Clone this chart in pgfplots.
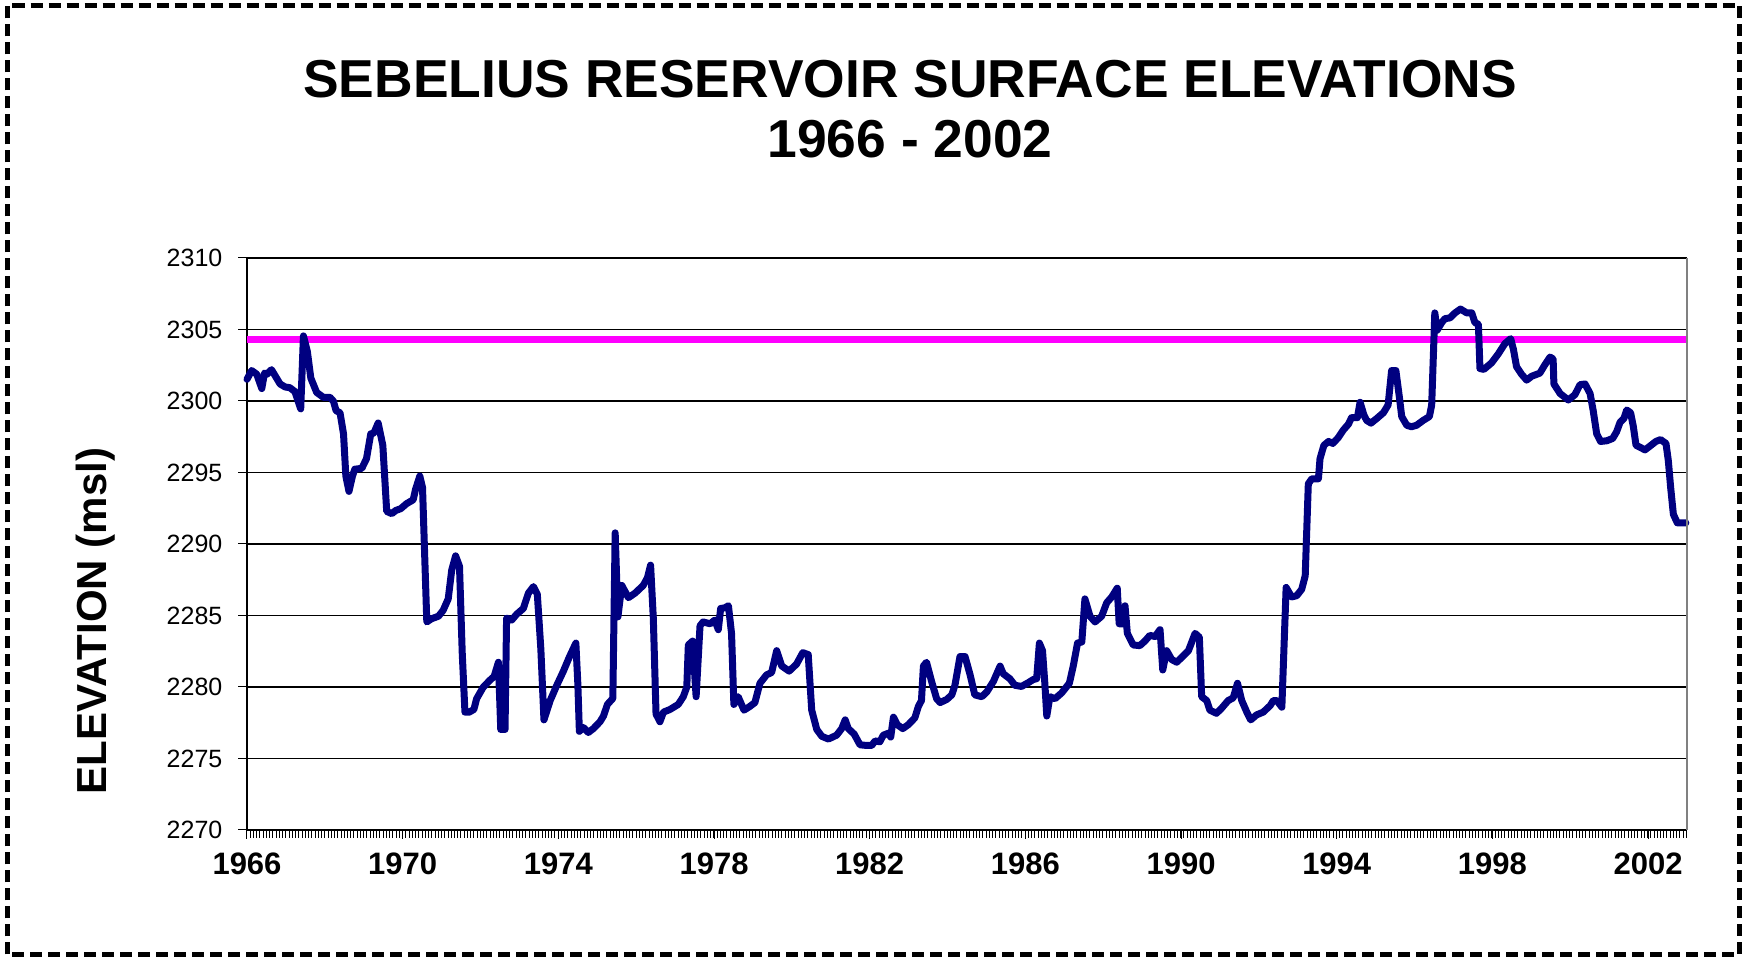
\documentclass[border=0pt]{standalone}
\usepackage{fontspec}
\setmainfont{Liberation Sans}
\usepackage{pgfplots}
\pgfplotsset{compat=1.18}
\definecolor{navyline}{RGB}{0,0,128}
\definecolor{magline}{RGB}{255,0,255}
\begin{document}
\begin{tikzpicture}
\useasboundingbox (0,0) rectangle (873.5pt,479pt);
\draw[line width=2.5pt, dash pattern=on 6pt off 3pt] (3.75pt,1.75pt) rectangle (869.75pt,476.25pt);
\node[anchor=base, font=\bfseries\fontsize{26.7}{30}\selectfont] at (455pt,430pt) {SEBELIUS RESERVOIR SURFACE ELEVATIONS};
\node[anchor=base, font=\bfseries\fontsize{26.7}{30}\selectfont] at (455pt,400pt) {1966 - 2002};
\node[rotate=90, font=\bfseries\fontsize{21}{25}\selectfont] at (48pt,168.5pt) {ELEVATION (msl)};
\begin{axis}[
  at={(123.5pt,64pt)}, anchor=south west,
  scale only axis, width=720pt, height=286pt,
  xmin=1966, xmax=2003, ymin=2270, ymax=2310,
  axis lines*=left,
  axis line style={black, line width=0.75pt},
  xtick={1966,1970,...,2002},
  minor xtick={1966,1966.083333,...,2003},
  ytick={2270,2275,...,2310},
  tick align=outside,
  major tick length=4.5pt, minor tick length=4pt,
  every tick/.style={black, line width=0.5pt},
  ymajorgrids,
  major grid style={black, line width=0.6pt},
  /pgf/number format/.cd, 1000 sep={}, assume math mode=true,
  /pgfplots/.cd,
  xticklabel style={font=\bfseries\fontsize{15.5}{18}\selectfont, yshift=-3.5pt},
  yticklabel style={font=\fontsize{12.5}{15}\selectfont, xshift=-4.3pt},
  clip=false,
]
\addplot[magline, line width=3.3pt] coordinates {(1966,2304.3) (2003,2304.3)};
\addplot[navyline, line width=3.5pt, line join=round, line cap=round] coordinates {
(1966.00,2301.52) (1966.12,2302.13) (1966.25,2301.87) (1966.38,2300.87) (1966.45,2301.95)
(1966.51,2301.87) (1966.63,2302.19) (1966.85,2301.19) (1966.98,2300.98) (1967.10,2300.93)
(1967.23,2300.66) (1967.38,2299.45) (1967.45,2304.55) (1967.55,2303.48) (1967.64,2301.60)
(1967.79,2300.60) (1967.96,2300.26) (1968.13,2300.26) (1968.22,2299.99) (1968.29,2299.32)
(1968.39,2299.18) (1968.48,2297.70) (1968.54,2294.75) (1968.62,2293.68) (1968.71,2294.75)
(1968.77,2295.23) (1968.95,2295.29) (1969.07,2295.96) (1969.18,2297.70) (1969.26,2297.76)
(1969.37,2298.46) (1969.49,2296.90) (1969.59,2292.28) (1969.72,2292.12) (1969.82,2292.34)
(1969.95,2292.47) (1970.10,2292.82) (1970.27,2293.09) (1970.33,2293.81) (1970.44,2294.75)
(1970.51,2293.95) (1970.62,2284.55) (1970.74,2284.77) (1970.92,2284.95) (1971.04,2285.36)
(1971.17,2286.16) (1971.26,2288.17) (1971.36,2289.17) (1971.46,2288.44) (1971.53,2282.40)
(1971.60,2278.24) (1971.71,2278.24) (1971.83,2278.43) (1971.90,2279.18) (1972.07,2279.99)
(1972.24,2280.47) (1972.35,2280.74) (1972.46,2281.73) (1972.52,2277.03) (1972.63,2277.03)
(1972.67,2284.82) (1972.80,2284.68) (1972.93,2285.09) (1973.10,2285.49) (1973.23,2286.56)
(1973.36,2287.02) (1973.46,2286.48) (1973.55,2282.67) (1973.63,2277.70) (1973.79,2279.05)
(1973.96,2280.12) (1974.13,2281.11) (1974.28,2282.08) (1974.45,2283.07) (1974.50,2280.26)
(1974.54,2276.90) (1974.64,2277.17) (1974.77,2276.82) (1974.90,2277.09) (1975.07,2277.57)
(1975.16,2277.97) (1975.26,2278.78) (1975.40,2279.20) (1975.46,2290.78) (1975.53,2284.90)
(1975.63,2287.10) (1975.80,2286.25) (1975.97,2286.56) (1976.18,2287.10) (1976.29,2287.64)
(1976.37,2288.52) (1976.44,2284.82) (1976.51,2278.11) (1976.61,2277.57) (1976.70,2278.24)
(1976.87,2278.43) (1977.08,2278.78) (1977.21,2279.32) (1977.30,2279.99) (1977.34,2282.94)
(1977.45,2283.21) (1977.54,2279.32) (1977.64,2284.28) (1977.72,2284.55) (1977.90,2284.42)
(1978.02,2284.68) (1978.11,2284.01) (1978.17,2285.49) (1978.28,2285.54) (1978.37,2285.68)
(1978.45,2283.75) (1978.51,2278.78) (1978.62,2279.32) (1978.77,2278.38) (1978.92,2278.64)
(1979.05,2278.91) (1979.18,2280.26) (1979.35,2280.85) (1979.48,2281.01) (1979.61,2282.54)
(1979.74,2281.47) (1979.93,2281.11) (1980.12,2281.60) (1980.28,2282.40) (1980.42,2282.27)
(1980.51,2278.38) (1980.64,2277.03) (1980.77,2276.55) (1980.94,2276.36) (1981.15,2276.63)
(1981.28,2277.09) (1981.37,2277.70) (1981.45,2277.09) (1981.60,2276.71) (1981.75,2275.96)
(1981.92,2275.91) (1982.05,2275.91) (1982.14,2276.23) (1982.26,2276.17) (1982.35,2276.63)
(1982.48,2276.77) (1982.54,2276.50) (1982.61,2277.89) (1982.71,2277.36) (1982.85,2277.09)
(1982.99,2277.36) (1983.16,2277.84) (1983.25,2278.64) (1983.33,2279.05) (1983.38,2281.47)
(1983.46,2281.73) (1983.59,2280.39) (1983.72,2279.18) (1983.81,2278.91) (1983.98,2279.13)
(1984.11,2279.45) (1984.19,2280.12) (1984.32,2282.13) (1984.45,2282.13) (1984.58,2280.85)
(1984.70,2279.45) (1984.88,2279.32) (1985.01,2279.66) (1985.18,2280.40) (1985.35,2281.46)
(1985.43,2280.93) (1985.60,2280.58) (1985.73,2280.12) (1985.90,2280.04) (1986.08,2280.31)
(1986.20,2280.52) (1986.29,2280.58) (1986.36,2283.07) (1986.44,2282.54) (1986.50,2280.26)
(1986.55,2277.97) (1986.63,2279.32) (1986.76,2279.18) (1986.93,2279.58) (1987.13,2280.26)
(1987.23,2281.46) (1987.34,2283.07) (1987.45,2283.15) (1987.53,2286.16) (1987.66,2284.95)
(1987.79,2284.55) (1987.96,2284.95) (1988.09,2285.89) (1988.22,2286.30) (1988.36,2286.91)
(1988.41,2284.42) (1988.52,2284.42) (1988.56,2285.68) (1988.62,2283.75) (1988.77,2282.94)
(1988.94,2282.89) (1989.07,2283.21) (1989.20,2283.61) (1989.33,2283.53) (1989.46,2284.01)
(1989.53,2281.19) (1989.63,2282.54) (1989.76,2281.92) (1989.89,2281.73) (1990.06,2282.19)
(1990.19,2282.54) (1990.36,2283.75) (1990.47,2283.48) (1990.53,2279.32) (1990.66,2279.05)
(1990.74,2278.38) (1990.91,2278.16) (1991.04,2278.51) (1991.21,2279.05) (1991.34,2279.24)
(1991.45,2280.26) (1991.56,2279.05) (1991.69,2278.24) (1991.79,2277.70) (1991.94,2278.05)
(1992.11,2278.24) (1992.29,2278.70) (1992.37,2279.05) (1992.46,2279.05) (1992.59,2278.59)
(1992.64,2282.40) (1992.70,2286.96) (1992.84,2286.30) (1992.97,2286.38) (1993.10,2286.83)
(1993.19,2287.77) (1993.27,2294.21) (1993.36,2294.56) (1993.53,2294.56) (1993.57,2295.96)
(1993.67,2296.90) (1993.79,2297.17) (1993.90,2297.03) (1994.04,2297.44) (1994.17,2297.97)
(1994.30,2298.38) (1994.38,2298.83) (1994.53,2298.83) (1994.60,2299.91) (1994.70,2299.00)
(1994.77,2298.64) (1994.88,2298.45) (1995.03,2298.78) (1995.20,2299.18) (1995.32,2299.72)
(1995.41,2302.13) (1995.52,2302.13) (1995.61,2300.26) (1995.67,2298.91) (1995.80,2298.30)
(1995.92,2298.20) (1996.05,2298.30) (1996.22,2298.64) (1996.38,2298.91) (1996.44,2299.72)
(1996.52,2306.16) (1996.58,2304.95) (1996.70,2305.49) (1996.78,2305.76) (1996.91,2305.81)
(1997.04,2306.16) (1997.18,2306.43) (1997.34,2306.16) (1997.47,2306.16) (1997.55,2305.49)
(1997.64,2305.36) (1997.68,2302.27) (1997.78,2302.21) (1997.98,2302.67) (1998.15,2303.29)
(1998.32,2304.01) (1998.47,2304.36) (1998.54,2303.61) (1998.62,2302.40) (1998.75,2301.87)
(1998.88,2301.46) (1999.01,2301.73) (1999.22,2301.95) (1999.35,2302.54) (1999.48,2303.07)
(1999.56,2302.94) (1999.58,2301.19) (1999.74,2300.52) (1999.95,2300.07) (2000.12,2300.44)
(2000.25,2301.14) (2000.38,2301.19) (2000.51,2300.52) (2000.59,2299.32) (2000.68,2297.70)
(2000.78,2297.17) (2000.94,2297.22) (2001.09,2297.38) (2001.19,2297.84) (2001.28,2298.51)
(2001.38,2298.78) (2001.45,2299.37) (2001.55,2299.18) (2001.62,2298.24) (2001.69,2296.90)
(2001.79,2296.77) (2001.92,2296.58) (2002.05,2296.85) (2002.20,2297.17) (2002.32,2297.30)
(2002.46,2297.03) (2002.52,2295.83) (2002.58,2293.95) (2002.65,2292.07) (2002.75,2291.48)
(2002.90,2291.48) (2002.97,2291.48)
};
\draw[gray, line width=0.75pt] (rel axis cs:1,0) -- (rel axis cs:1,1);
\end{axis}
\end{tikzpicture}
\end{document}
